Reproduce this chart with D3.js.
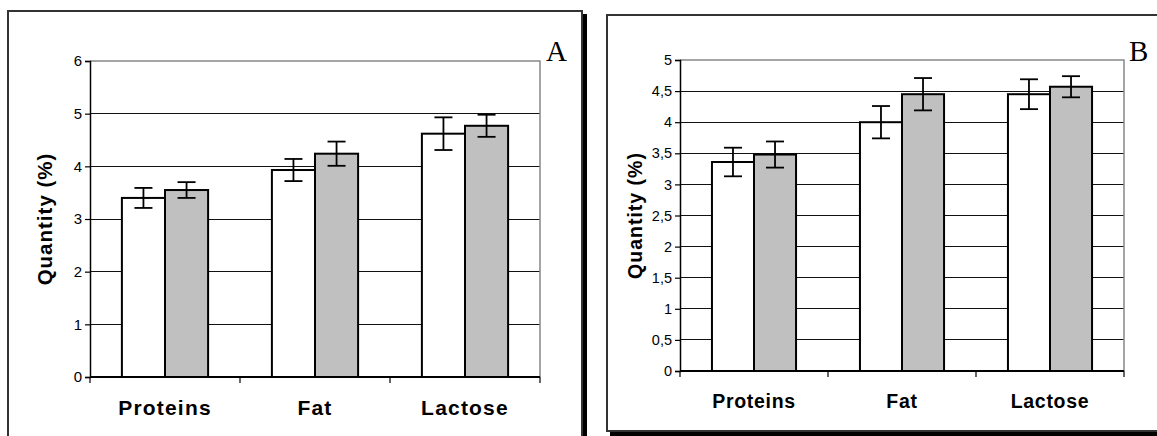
<!DOCTYPE html>
<html>
<head>
<meta charset="utf-8">
<script src="https://cdn.jsdelivr.net/npm/d3@7"></script>
<style>
  body { margin: 0; background: #fff; }
  svg { display: block; font-family: "Liberation Sans", Arial, sans-serif; }
</style>
</head>
<body>
<svg width="1157" height="436"></svg>
<script>
// categories and values
const categories = ["Proteins", "Fat", "Lactose"];

const aWhite = [3.40, 3.93, 4.62];
const aWhiteErr = [0.19, 0.21, 0.31];
const aGrey = [3.55, 4.24, 4.77];
const aGreyErr = [0.15, 0.23, 0.21];
const aTicks = [0, 1, 2, 3, 4, 5, 6];

const bWhite = [3.36, 4.00, 4.45];
const bWhiteErr = [0.23, 0.26, 0.24];
const bGrey = [3.48, 4.45, 4.57];
const bGreyErr = [0.21, 0.26, 0.17];
const bTicks = [0, 0.5, 1, 1.5, 2, 2.5, 3, 3.5, 4, 4.5, 5];

const seriesFill = ["#ffffff", "#c0c0c0"];

const svg = d3.select("svg");

// panel frames with their black drop shadows
svg.append("rect").attr("x", 582).attr("y", 14).attr("width", 5).attr("height", 430).attr("fill", "#000");
svg.append("rect").attr("x", 8).attr("y", 11).attr("width", 574).attr("height", 440)
  .attr("fill", "#fff").attr("stroke", "#333").attr("stroke-width", 2);

svg.append("rect").attr("x", 610).attr("y", 431).attr("width", 560).attr("height", 6).attr("fill", "#000");
svg.append("rect").attr("x", 607).attr("y", 15).attr("width", 560).attr("height", 416)
  .attr("fill", "#fff").attr("stroke", "#333").attr("stroke-width", 2);

const drawPanel = (cfg) => {
  const g = svg.append("g");

  const x = d3.scaleBand().domain(categories).range([cfg.left, cfg.right]);
  const inner = d3.scaleBand().domain([0, 1]).range([0, x.bandwidth()]).paddingOuter(cfg.barPad);
  const y = d3.scaleLinear().domain([0, cfg.ticks[cfg.ticks.length - 1]]).range([cfg.bottom, cfg.top]);

  // gridlines
  g.selectAll("line.grid")
    .data(cfg.ticks.slice(1, -1))
    .enter()
    .append("line")
    .attr("x1", cfg.left).attr("x2", cfg.right)
    .attr("y1", d => y(d)).attr("y2", d => y(d))
    .attr("stroke", "#111").attr("stroke-width", 1)
    .attr("shape-rendering", "crispEdges");

  // gray top and right border of the plot area
  g.append("path")
    .attr("d", `M${cfg.left},${y(cfg.ticks[cfg.ticks.length - 1])}H${cfg.right}V${cfg.bottom}`)
    .attr("fill", "none").attr("stroke", "#888").attr("stroke-width", 1.5);

  // bars
  const rows = [];
  categories.forEach((c, i) => {
    cfg.series.forEach((s, k) => rows.push({ c, k, v: s[i], e: cfg.errors[k][i] }));
  });

  g.selectAll("rect.bar")
    .data(rows)
    .enter()
    .append("rect")
    .attr("x", d => x(d.c) + inner(d.k))
    .attr("y", d => y(d.v))
    .attr("width", inner.bandwidth())
    .attr("height", d => y(0) - y(d.v))
    .attr("fill", d => seriesFill[d.k])
    .attr("stroke", "#000")
    .attr("stroke-width", 2);

  // error bars
  const err = g.selectAll("g.err").data(rows).enter().append("g")
    .attr("stroke", "#000").attr("stroke-width", 1.8);
  const cx = d => x(d.c) + inner(d.k) + inner.bandwidth() / 2;
  err.append("line")
    .attr("x1", cx).attr("x2", cx)
    .attr("y1", d => y(d.v - d.e)).attr("y2", d => y(d.v + d.e));
  err.append("line")
    .attr("x1", d => cx(d) - 9).attr("x2", d => cx(d) + 9)
    .attr("y1", d => y(d.v + d.e)).attr("y2", d => y(d.v + d.e));
  err.append("line")
    .attr("x1", d => cx(d) - 9).attr("x2", d => cx(d) + 9)
    .attr("y1", d => y(d.v - d.e)).attr("y2", d => y(d.v - d.e));

  // y axis
  const yAxis = d3.axisLeft(y)
    .tickValues(cfg.ticks)
    .tickSize(5)
    .tickPadding(3)
    .tickFormat(d => String(d).replace(".", ","));
  const ya = g.append("g").attr("transform", `translate(${cfg.left},0)`).call(yAxis);
  ya.attr("font-size", cfg.tickFont).attr("font-family", "'Liberation Sans', Arial, sans-serif");
  ya.select(".domain").attr("stroke", "#000").attr("stroke-width", 1.5);
  ya.selectAll(".tick line").attr("stroke", "#000").attr("stroke-width", 1.2);
  ya.selectAll(".tick text").attr("fill", "#000");

  // x axis line with ticks at band boundaries
  const bounds = categories.map(c => x(c)).concat([cfg.right]);
  g.append("line")
    .attr("x1", cfg.left).attr("x2", cfg.right)
    .attr("y1", cfg.bottom).attr("y2", cfg.bottom)
    .attr("stroke", "#000").attr("stroke-width", 1.8);
  g.selectAll("line.xtick")
    .data(bounds)
    .enter()
    .append("line")
    .attr("x1", d => d).attr("x2", d => d)
    .attr("y1", cfg.bottom).attr("y2", cfg.bottom + 6)
    .attr("stroke", "#000").attr("stroke-width", 1.2);

  g.selectAll("text.cat")
    .data(categories)
    .enter()
    .append("text")
    .attr("x", d => x(d) + x.bandwidth() / 2)
    .attr("y", cfg.catY)
    .attr("text-anchor", "middle")
    .attr("font-size", cfg.catFont)
    .attr("font-weight", "bold")
    .attr("letter-spacing", cfg.catSpacing)
    .text(d => d);

  g.append("text")
    .attr("transform", `translate(${cfg.titleX},${(cfg.top + cfg.bottom) / 2}) rotate(-90)`)
    .attr("text-anchor", "middle")
    .attr("font-size", cfg.titleFont)
    .attr("font-weight", "bold")
    .attr("letter-spacing", 1)
    .text("Quantity (%)");

  g.append("text")
    .attr("x", cfg.letterX)
    .attr("y", 61)
    .attr("font-family", "'Liberation Serif', 'Times New Roman', serif")
    .attr("font-size", 29)
    .text(cfg.letter);
};

drawPanel({
  left: 90, right: 540, top: 61, bottom: 377,
  ticks: aTicks, series: [aWhite, aGrey], errors: [aWhiteErr, aGreyErr],
  barPad: 0.74, tickFont: 15, catFont: 21, catSpacing: 1.2, catY: 415,
  titleX: 52, titleFont: 20.5, letter: "A", letterX: 546
});

drawPanel({
  left: 680, right: 1124, top: 60, bottom: 371,
  ticks: bTicks, series: [bWhite, bGrey], errors: [bWhiteErr, bGreyErr],
  barPad: 0.76, tickFont: 14.5, catFont: 19.5, catSpacing: 0.7, catY: 408,
  titleX: 642, titleFont: 19.5, letter: "B", letterX: 1129
});
</script>
</body>
</html>
